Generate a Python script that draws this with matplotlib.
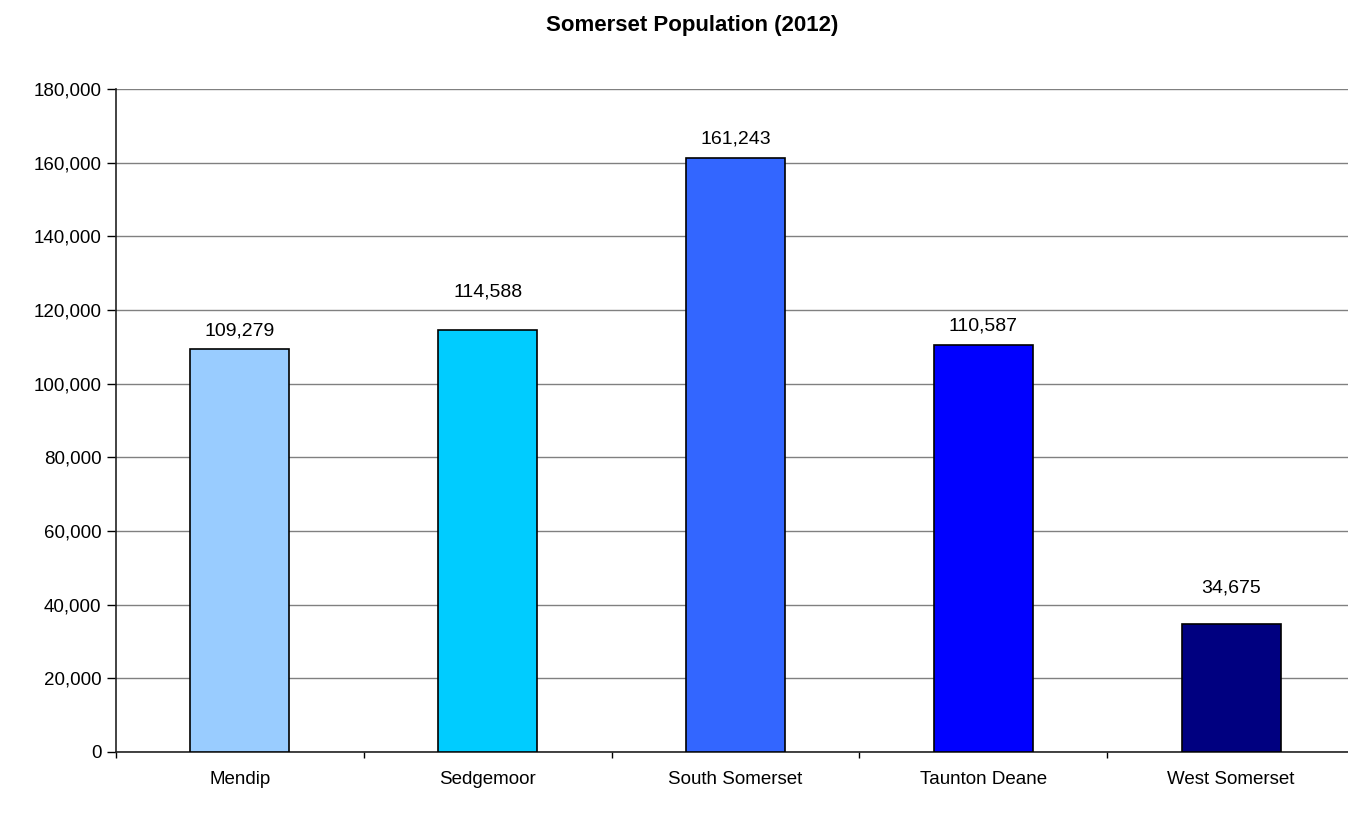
import matplotlib
matplotlib.use("Agg")
import matplotlib.pyplot as plt
from matplotlib.ticker import FuncFormatter, MultipleLocator

districts = ["Mendip", "Sedgemoor", "South Somerset", "Taunton Deane", "West Somerset"]
population = [109279, 114588, 161243, 110587, 34675]
bar_colors = ["#99CCFF", "#00CCFF", "#3366FF", "#0000FF", "#000080"]
# gap (pixels) between each bar top and the baseline of its value label
label_gaps = [14, 33, 15, 14, 32]

plt.rcParams["font.family"] = ["Liberation Sans", "DejaVu Sans"]

W, H = 1348, 816
fig = plt.figure(figsize=(W / 100, H / 100), dpi=100)
left, right, top, bottom = 116, 1355, 89, 752
ax = fig.add_axes([left / W, 1 - bottom / H, (right - left) / W, (bottom - top) / H])

x = list(range(len(districts)))
ax.bar(x, population, width=0.4, color=bar_colors, edgecolor="black",
       linewidth=1.2, zorder=3)

for xi, v, g in zip(x, population, label_gaps):
    ax.annotate(f"{v:,}", (xi, v), xytext=(0, g), textcoords="offset pixels",
                ha="center", va="baseline", fontsize=14)

ax.set_xlim(-0.5, len(districts) - 0.5)
ax.set_ylim(0, 180000)
ax.yaxis.set_major_locator(MultipleLocator(20000))
ax.yaxis.set_major_formatter(FuncFormatter(lambda v, p: f"{int(v):,}"))
ax.grid(axis="y", color="#808080", linewidth=1.0, zorder=0)

ax.set_xticks(x)
ax.set_xticklabels(districts, fontsize=13.5)
ax.tick_params(axis="x", length=0, pad=14)
ax.set_xticks([i - 0.5 for i in range(len(districts) + 1)], minor=True)
ax.tick_params(axis="x", which="minor", length=4.5, width=1, color="black", direction="out")
ax.tick_params(axis="y", length=6.5, width=1, labelsize=13.5, pad=4)

for s in ("top", "right"):
    ax.spines[s].set_visible(False)
for s in ("left", "bottom"):
    ax.spines[s].set_color("#222222")
    ax.spines[s].set_linewidth(1.2)

fig.text(692 / W, 1 - 25 / H, "Somerset Population (2012)", ha="center", va="center",
         fontsize=16, fontweight="bold")

fig.savefig("out.png", dpi=100)
